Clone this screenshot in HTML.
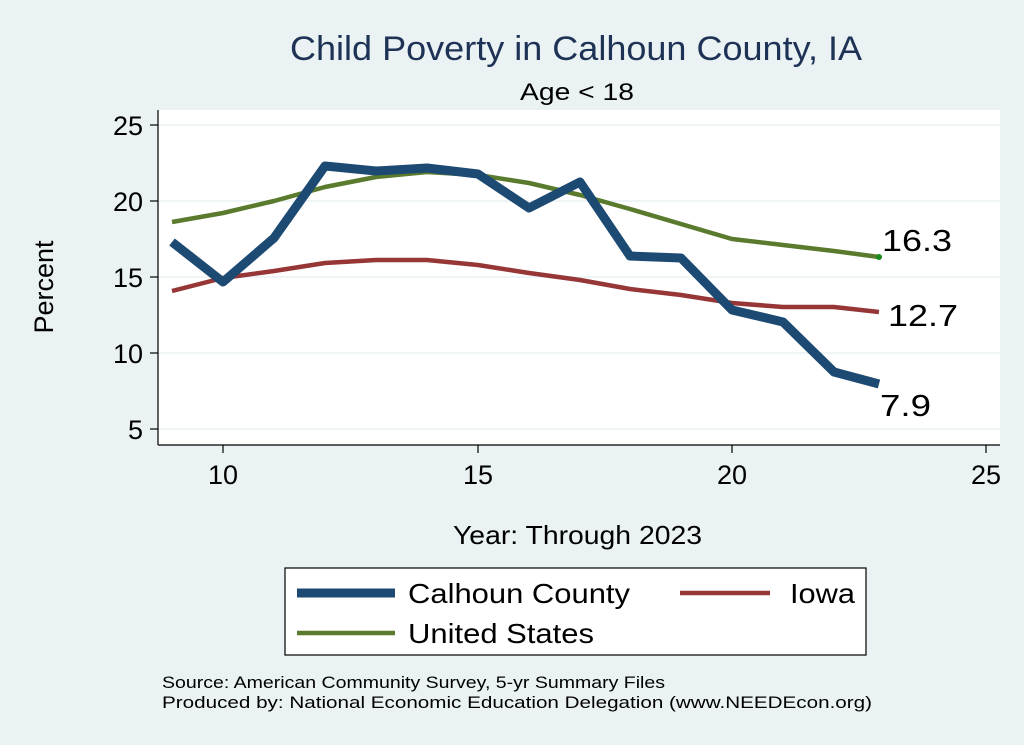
<!DOCTYPE html>
<html><head><style>body{margin:0;background:#eaf2f3}svg{display:block}text{font-family:"Liberation Sans",sans-serif}</style></head><body>
<svg width="1024" height="745" viewBox="0 0 1024 745" xmlns="http://www.w3.org/2000/svg">
<rect width="1024" height="745" fill="#eaf2f3"/>
<rect x="158" y="110" width="842" height="335" fill="#fff"/>
<g stroke="#eaf2f3" stroke-width="1.5">
<line x1="158" x2="1000" y1="125" y2="125"/><line x1="158" x2="1000" y1="201" y2="201"/><line x1="158" x2="1000" y1="277" y2="277"/><line x1="158" x2="1000" y1="353" y2="353"/><line x1="158" x2="1000" y1="429" y2="429"/>
</g>
<g stroke="#000" stroke-width="1.2">
<line x1="158" x2="158" y1="110" y2="445"/><line x1="158" x2="1000" y1="445" y2="445"/>
<line x1="150" x2="158" y1="125" y2="125"/><line x1="150" x2="158" y1="201" y2="201"/><line x1="150" x2="158" y1="277" y2="277"/><line x1="150" x2="158" y1="353" y2="353"/><line x1="150" x2="158" y1="429" y2="429"/>
<line x1="223" x2="223" y1="445" y2="453"/><line x1="478" x2="478" y1="445" y2="453"/><line x1="732" x2="732" y1="445" y2="453"/><line x1="986" x2="986" y1="445" y2="453"/>
</g>
<g font-size="27" text-anchor="end"><text x="143" y="135">25</text><text x="143" y="211">20</text><text x="143" y="287">15</text><text x="143" y="363">10</text><text x="143" y="439">5</text></g>
<g font-size="27" text-anchor="middle"><text x="223" y="484">10</text><text x="478" y="484">15</text><text x="732" y="484">20</text><text x="986" y="484">25</text></g>
<text x="53" y="287" font-size="27" text-anchor="middle" transform="rotate(-90 53 287)">Percent</text>
<text x="453" y="544" font-size="26" textLength="249" lengthAdjust="spacingAndGlyphs">Year: Through 2023</text>
<text x="290" y="60" font-size="34" fill="#1e3256" textLength="572" lengthAdjust="spacingAndGlyphs">Child Poverty in Calhoun County, IA</text>
<text x="520" y="100" font-size="24" textLength="114" lengthAdjust="spacingAndGlyphs">Age &lt; 18</text>
<polyline fill="none" stroke="#5a7b2e" stroke-width="4.5" stroke-linejoin="round" points="172,222 223,213 274,201 325,187 376,177 427,172 478,175 529,183 580,195 630,209 681,224 732,239 783,245 834,251 879,257"/>
<polyline fill="none" stroke="#963636" stroke-width="4.5" stroke-linejoin="round" points="172,291 223,278 274,271 325,263 376,260 427,260 478,265 529,273 580,280 630,289 681,295 732,303 783,307 834,307 879,312"/>
<polyline fill="none" stroke="#1c4a72" stroke-width="9" stroke-linejoin="round" points="172,242 223,282 274,238 325,166 376,171 427,168 478,174 529,208 580,182 630,256 681,258 732,310 783,322 834,372 879,384"/>
<circle cx="879" cy="257" r="3" fill="#1a8a1a"/>
<g font-size="31"><text x="882" y="251" textLength="70" lengthAdjust="spacingAndGlyphs">16.3</text><text x="888" y="326" textLength="70" lengthAdjust="spacingAndGlyphs">12.7</text><text x="880" y="416" textLength="51" lengthAdjust="spacingAndGlyphs">7.9</text></g>
<rect x="285" y="568" width="581" height="87" fill="#fff" stroke="#000" stroke-width="1.2"/>
<line x1="297" x2="395" y1="593" y2="593" stroke="#1c4a72" stroke-width="9"/>
<text x="408" y="603" font-size="28" textLength="222" lengthAdjust="spacingAndGlyphs">Calhoun County</text>
<line x1="680" x2="770" y1="593" y2="593" stroke="#963636" stroke-width="4.5"/>
<text x="790" y="603" font-size="28" textLength="65" lengthAdjust="spacingAndGlyphs">Iowa</text>
<line x1="297" x2="395" y1="633" y2="633" stroke="#5a7b2e" stroke-width="4.5"/>
<text x="408" y="643" font-size="28" textLength="186" lengthAdjust="spacingAndGlyphs">United States</text>
<text x="162" y="688" font-size="17" textLength="503" lengthAdjust="spacingAndGlyphs">Source: American Community Survey, 5-yr Summary Files</text>
<text x="162" y="708" font-size="17" textLength="710" lengthAdjust="spacingAndGlyphs">Produced by: National Economic Education Delegation (www.NEEDEcon.org)</text>
</svg>
</body></html>
